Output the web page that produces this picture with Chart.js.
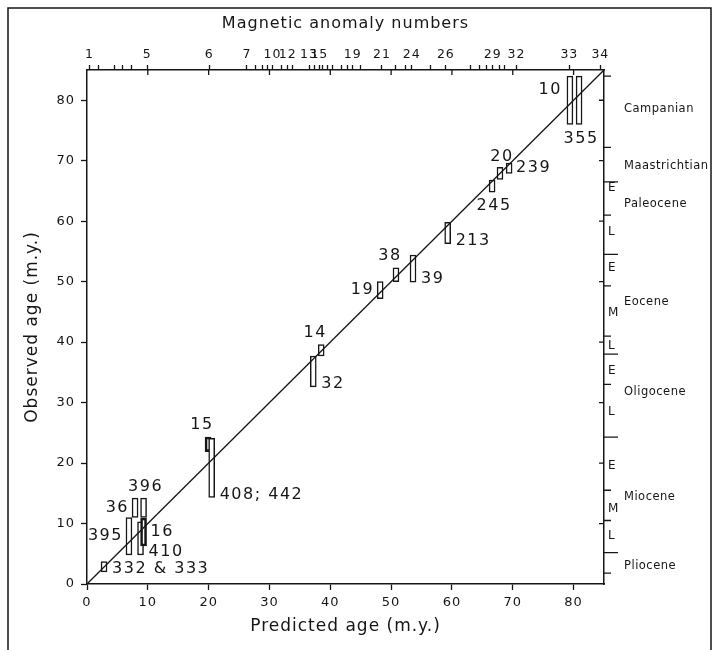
<!DOCTYPE html>
<html>
<head>
<meta charset="utf-8">
<script src="https://cdn.jsdelivr.net/npm/chart.js@4"></script>
<style>
  html, body { margin: 0; padding: 0; background: #fff; }
  #wrap { width: 718px; height: 650px; position: relative; }
</style>
</head>
<body>
<div id="wrap"><canvas id="age-chart"></canvas></div>
<script>
"use strict";

// DSDP sites: predicted age vs observed age range (m.y.)
const siteLabels   = ["332 & 333", "395", "36", "410", "396", "16", "15", "408; 442", "32", "14", "19", "38", "39", "213", "245", "20", "239", "10", "355"];
const predictedAge = [2.8, 6.9, 7.9, 8.8, 9.3, 9.3, 19.9, 20.5, 37.2, 38.5, 48.2, 50.8, 53.6, 59.3, 66.6, 67.9, 69.4, 79.4, 80.9];
const observedMin  = [2.0, 4.8, 11.0, 4.8, 11.0, 6.3, 21.9, 14.3, 32.6, 37.7, 47.2, 50.0, 49.9, 56.3, 64.8, 66.9, 67.9, 76.0, 76.0];
const observedMax  = [3.7, 11.0, 14.2, 10.3, 14.2, 10.9, 24.3, 24.1, 37.7, 39.6, 50.0, 52.3, 54.4, 59.8, 66.8, 68.9, 69.6, 84.0, 84.0];
// which side of its box each site number sits on
const labelSide    = ["lowright", "left", "left", "lowright", "above", "right", "aboveleft", "lowright", "lowright", "aboveleft", "left", "aboveleft", "lowright", "lowright", "below", "above", "right", "upleft", "below"];

// axis ticks (m.y.)
const ageTicks = [0, 10, 20, 30, 40, 50, 60, 70, 80];

// top axis: magnetic anomalies
const anomalyAges  = [0.4, 1.9, 4.5, 5.9, 7.3, 9.9, 20.1, 26.3, 27.7, 28.8, 29.6, 30.5, 32.0, 33.0, 33.8, 36.5, 37.4, 38.2, 38.8, 39.6, 40.3, 41.9, 42.8, 43.7, 44.9, 48.5, 50.7, 52.3, 53.4, 56.4, 59.0, 63.0, 64.6, 65.7, 66.7, 67.8, 68.6, 70.6, 79.3, 84.4];
const anomalyNames = ["1", "", "", "", "", "5", "6", "7", "", "", "", "10", "", "12", "", "13", "", "15", "", "", "", "", "", "19", "", "21", "", "", "24", "", "26", "", "", "", "29", "", "", "32", "33", "34"];

// right axis: time scale
const boundaryAges  = [84.0, 72.2, 66.5, 61.0, 54.5, 49.3, 41.0, 38.0, 33.0, 24.3, 15.5, 10.5, 5.2, 1.8];
const boundaryMajor = [false, false, true, false, true, false, false, true, false, true, false, false, true, false];
const epochNames = ["Campanian", "Maastrichtian", "Paleocene", "Eocene", "Oligocene", "Miocene", "Pliocene"];
const epochAges  = [78.5, 69.1, 62.8, 46.6, 31.7, 14.4, 3.0];
const subNames = ["E", "L", "E", "M", "L", "E", "L", "E", "M", "L"];
const subAges  = [65.5, 58.2, 52.2, 44.8, 39.3, 35.2, 28.4, 19.5, 12.4, 7.9];

const INK = "#161616";
const FONT = "'DejaVu Sans', sans-serif";

const boxes = predictedAge.map((x, i) => ({ x: x, y: [observedMin[i], observedMax[i]] }));

const annotate = {
    id: "annotate",
    beforeDraw(chart) {
        // hand lettering is loosely spaced
        chart.ctx.letterSpacing = "1px";
    },
    afterDraw(chart) {
        const ctx = chart.ctx;
        const xs = chart.scales.x, ys = chart.scales.y;
        const area = chart.chartArea;
        ctx.save();
        ctx.strokeStyle = INK;
        ctx.fillStyle = INK;

        // inward ticks on top and right sides
        ctx.lineWidth = 1.3;
        ctx.beginPath();
        ageTicks.forEach(v => {
            if (v === 0) return;
            const px = xs.getPixelForValue(v);
            ctx.moveTo(px, area.top); ctx.lineTo(px, area.top + 5);
            const py = ys.getPixelForValue(v);
            ctx.moveTo(area.right, py); ctx.lineTo(area.right - 5, py);
        });
        // time scale boundaries
        boundaryAges.forEach((v, i) => {
            const py = ys.getPixelForValue(v);
            ctx.moveTo(area.right, py);
            ctx.lineTo(area.right + (boundaryMajor[i] ? 14 : 7), py);
        });
        ctx.stroke();

        // E / M / L
        ctx.letterSpacing = "0.5px";
        ctx.font = "12px " + FONT;
        ctx.textBaseline = "middle";
        ctx.textAlign = "left";
        subNames.forEach((s, i) => ctx.fillText(s, area.right + 4, ys.getPixelForValue(subAges[i])));

        // epoch names
        ctx.font = "11.5px " + FONT;
        const frameRight = 711;
        epochNames.forEach((s, i) => {
            const w = ctx.measureText(s).width;
            const px = Math.min(area.right + 20, frameRight - w - 1);
            ctx.fillText(s, px, ys.getPixelForValue(epochAges[i]));
        });

        // site numbers
        ctx.letterSpacing = "1.5px";
        ctx.font = "16px " + FONT;
        const meta = chart.getDatasetMeta(1);
        meta.data.forEach((bar, i) => {
            const p = bar.getProps(["x", "y", "base", "width"], true);
            const left = p.x - p.width / 2, right = p.x + p.width / 2;
            const top = Math.min(p.y, p.base), bottom = Math.max(p.y, p.base);
            let tx, ty, align;
            switch (labelSide[i]) {
                case "left":      tx = left - 3;  ty = (top + bottom) / 2; align = "right"; break;
                case "upleft":    tx = left - 5;  ty = top + 14;           align = "right"; break;
                case "right":     tx = right + 4; ty = (top + bottom) / 2; align = "left"; break;
                case "lowright":  tx = right + 5; ty = bottom - 3;         align = "left"; break;
                case "above":     tx = p.x + 2;   ty = top - 11;           align = "center"; break;
                case "aboveleft": tx = p.x - 6;   ty = top - 12;           align = "center"; break;
                case "below":     tx = p.x + 2;   ty = bottom + 14;        align = "center"; break;
            }
            ctx.textAlign = align;
            ctx.fillText(siteLabels[i], tx, ty);
        });

        // figure frame
        ctx.lineWidth = 1.5;
        ctx.beginPath();
        ctx.moveTo(8, 650); ctx.lineTo(8, 8); ctx.lineTo(frameRight, 8); ctx.lineTo(frameRight, 650);
        ctx.stroke();
        ctx.restore();
    }
};

const axisCommon = {
    type: "linear",
    min: 0,
    max: 85,
    offset: false,
    border: { color: INK, width: 1.5 },
    grid: { drawOnChartArea: false, offset: false, color: INK, tickColor: INK, tickLength: 6, tickWidth: 1.3 },
    ticks: { color: INK, font: { family: FONT, size: 13 }, maxRotation: 0, autoSkip: false },
};

new Chart(document.getElementById("age-chart"), {
    type: "bar",
    data: {
        datasets: [
            {
                type: "line",
                data: [{ x: 0, y: 0 }, { x: 85, y: 85 }],
                borderColor: INK,
                borderWidth: 1.3,
                pointRadius: 0,
                order: 0,
            },
            {
                type: "bar",
                data: boxes,
                backgroundColor: "#fff",
                borderColor: INK,
                borderWidth: (c) => (siteLabels[c.dataIndex] === "15" || siteLabels[c.dataIndex] === "16") ? 2.6 : 1.5,
                borderSkipped: false,
                barThickness: 6,
                grouped: false,
                order: 1,
            },
        ],
    },
    options: {
        responsive: true,
        maintainAspectRatio: false,
        animation: false,
        layout: { padding: 0 },
        plugins: {
            legend: { display: false },
            tooltip: { enabled: false },
        },
        scales: {
            x: {
                ...axisCommon,
                position: "bottom",
                afterBuildTicks: (s) => { s.ticks = ageTicks.map(v => ({ value: v })); },
                ticks: { ...axisCommon.ticks, padding: 5 },
                title: { display: true, text: "Predicted age (m.y.)", color: INK, font: { family: FONT, size: 17 }, padding: { bottom: 13 } },
                afterFit: (s) => { s.height = 66; },
            },
            y: {
                ...axisCommon,
                position: "left",
                afterBuildTicks: (s) => { s.ticks = ageTicks.map(v => ({ value: v })); },
                ticks: { ...axisCommon.ticks, padding: 6 },
                title: { display: true, text: "Observed age (m.y.)", color: INK, font: { family: FONT, size: 17 }, padding: { top: 22 } },
                afterFit: (s) => { s.width = 87; },
            },
            x2: {
                ...axisCommon,
                position: "top",
                afterBuildTicks: (s) => { s.ticks = anomalyAges.map(v => ({ value: v })); },
                grid: { ...axisCommon.grid, tickLength: 5 },
                ticks: { ...axisCommon.ticks, font: { family: FONT, size: 12.5 }, padding: 3, callback: (v, i) => anomalyNames[i] },
                title: { display: true, text: "Magnetic anomaly numbers", color: INK, font: { family: FONT, size: 16 }, padding: { top: 14 } },
                afterFit: (s) => { s.height = 70; },
            },
            y2: {
                ...axisCommon,
                position: "right",
                grid: { ...axisCommon.grid, drawTicks: false },
                ticks: { display: false },
                afterFit: (s) => { s.width = 114; },
            },
        },
    },
    plugins: [annotate],
});
</script>
</body>
</html>
